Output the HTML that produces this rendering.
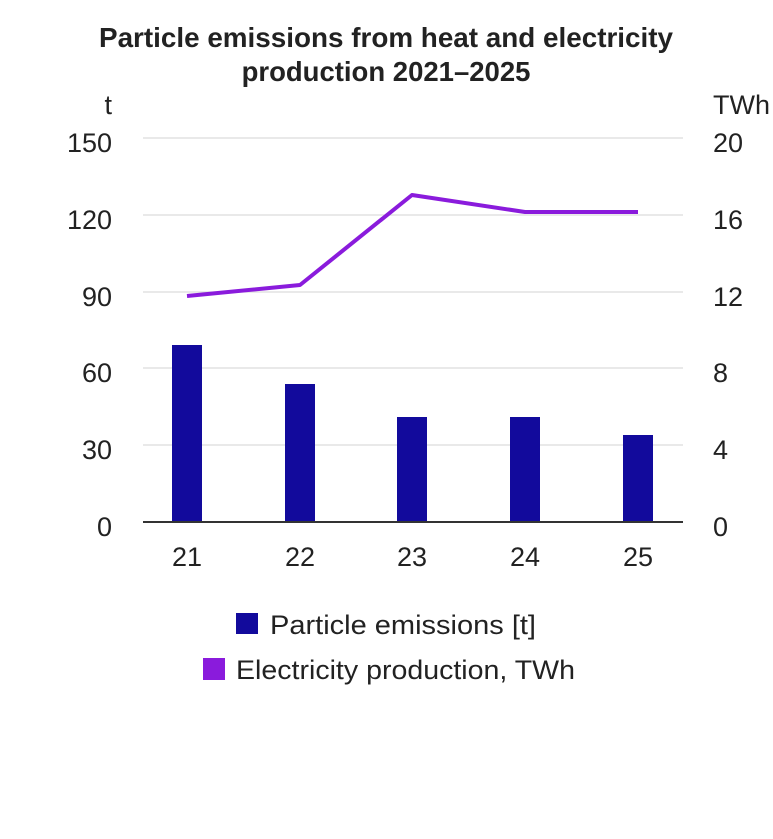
<!DOCTYPE html>
<html><head><meta charset="utf-8"><style>
body{margin:0;background:#fff;width:773px;height:839px;overflow:hidden}
svg{display:block}
text{font-family:"Liberation Sans",sans-serif;fill:#222}
</style></head><body>
<svg width="773" height="839" viewBox="0 0 773 839">
<text x="386" y="47" text-anchor="middle" font-size="27.5" font-weight="bold" textLength="574" lengthAdjust="spacingAndGlyphs">Particle emissions from heat and electricity</text>
<text x="386" y="81" text-anchor="middle" font-size="27.5" font-weight="bold">production 2021–2025</text>
<text x="112" y="114" text-anchor="end" font-size="27">t</text>
<text x="713" y="114" font-size="27">TWh</text>
<g stroke="#dcdcdc" stroke-width="1.2">
<line x1="143" x2="683" y1="138" y2="138"/><line x1="143" x2="683" y1="215" y2="215"/><line x1="143" x2="683" y1="292" y2="292"/><line x1="143" x2="683" y1="368" y2="368"/><line x1="143" x2="683" y1="445" y2="445"/>
</g>
<g font-size="27" text-anchor="end">
<text x="112" y="152">150</text><text x="112" y="229">120</text><text x="112" y="306">90</text><text x="112" y="382">60</text><text x="112" y="459">30</text><text x="112" y="536">0</text>
</g>
<g font-size="27">
<text x="713" y="152">20</text><text x="713" y="229">16</text><text x="713" y="306">12</text><text x="713" y="382">8</text><text x="713" y="459">4</text><text x="713" y="536">0</text>
</g>
<g fill="#120a9c">
<rect x="172" y="345" width="30" height="177"/><rect x="285" y="384" width="30" height="138"/><rect x="397" y="417" width="30" height="105"/><rect x="510" y="417" width="30" height="105"/><rect x="623" y="435" width="30" height="87"/>
</g>
<line x1="143" x2="683" y1="522" y2="522" stroke="#333" stroke-width="2"/>
<polyline points="187,296 300,285 412,195 525,212 638,212" fill="none" stroke="#8a1bdc" stroke-width="4" stroke-linejoin="round"/>
<g font-size="27" text-anchor="middle">
<text x="187" y="566">21</text><text x="300" y="566">22</text><text x="412" y="566">23</text><text x="525" y="566">24</text><text x="638" y="566">25</text>
</g>
<rect x="236" y="613" width="22" height="21" fill="#120a9c"/>
<text x="270" y="634" font-size="27" textLength="266" lengthAdjust="spacingAndGlyphs">Particle emissions [t]</text>
<rect x="203" y="658" width="22" height="22" fill="#8a1bdc"/>
<text x="236" y="679" font-size="27" textLength="339" lengthAdjust="spacingAndGlyphs">Electricity production, TWh</text>
</svg>
</body></html>
